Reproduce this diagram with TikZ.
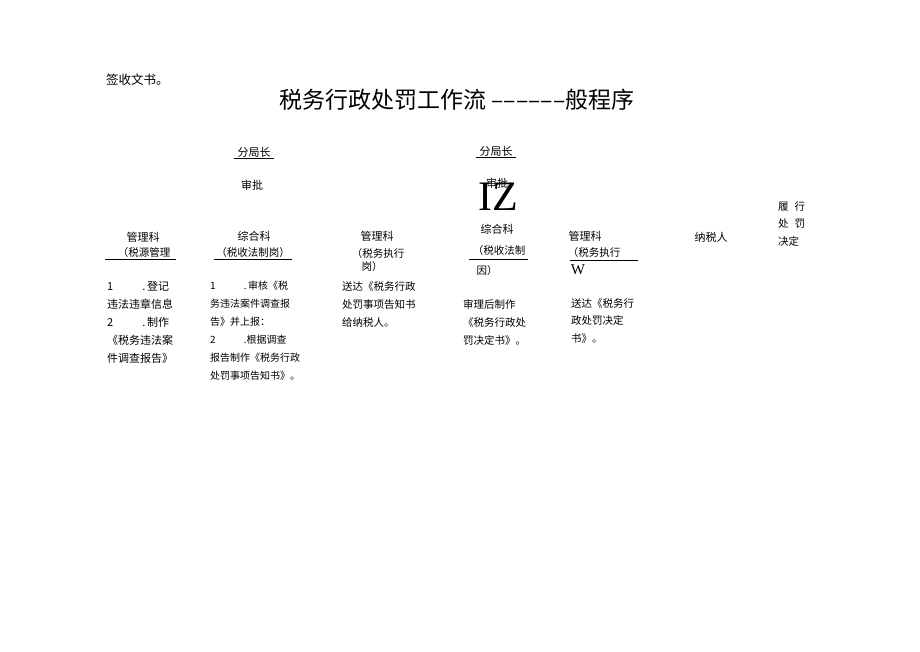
\documentclass[tikz,border=0pt]{standalone}
\usepackage{fontspec}
\setmainfont{Noto Sans CJK SC}
\newfontfamily\latinserif{Liberation Serif}
\usetikzlibrary{positioning}

\begin{document}
\begin{tikzpicture}[x=1pt,y=-1pt,
  head/.style={font=\fontsize{11}{13}\selectfont,inner sep=1.5pt},
  sub/.style={font=\fontsize{10.5}{13}\selectfont,inner sep=1.5pt},
  body/.style={font=\fontsize{10.5}{18}\selectfont,align=left,anchor=north west,inner sep=0pt},
  rule/.style={line width=0.6pt}]

  \fill[white] (0,0) rectangle (920,651);
  \useasboundingbox (0,0) rectangle (920,651);

  \node[anchor=west,inner sep=0pt,font=\fontsize{12.5}{14}\selectfont] (sign) at (106,80) {签收文书。};
  \node[font=\fontsize{23}{26}\selectfont] (title) at (457,100) {税务行政处罚工作流 ––––––般程序};

  % chiefs
  \node[head] (chief1) at (254,152) {分局长};
  \draw[rule] ([xshift=-2pt]chief1.south west) -- ([xshift=2pt]chief1.south east);
  \node[head] (chief2) at (496,151) {分局长};
  \draw[rule] ([xshift=-2pt]chief2.south west) -- ([xshift=2pt]chief2.south east);
  \node[head] (approve1) at (252,185) {审批};
  \node[head] (approve2) at (497,183) {审批};
  \node[font=\latinserif\fontsize{42}{44}\selectfont] (iz) at (498,197) {IZ};

  % departments
  \node[head] (dept1) at (143,237) {管理科};
  \node[head] (dept2) at (254,236) {综合科};
  \node[head] (dept3) at (377,236) {管理科};
  \node[head] (dept4) at (497,229) {综合科};
  \node[head] (dept5) at (585,236) {管理科};
  \node[head] (payer) at (711,237) {纳税人};
  \node[font=\fontsize{10.5}{17.5}\selectfont,align=left,anchor=north west,inner sep=0pt] (perform) at (778,201) {履\hspace{6pt}行\\处\hspace{6pt}罚\\决定};

  \node[sub] (post1) at (144,253) {（税源管理};
  \draw[rule] ([xshift=-11pt]post1.south west) -- ([xshift=4pt]post1.south east);
  \node[sub] (post2) at (253,253) {（税收法制岗）};
  \draw[rule] ([xshift=-1pt]post2.south west) -- ([xshift=1pt]post2.south east);
  \node[sub] (post3) at (378,254) {（税务执行};
  \node[sub] (post3b) at (372,267) {岗）};
  \node[sub] (post4) at (499,251) {（税收法制};
  \draw[rule] ([xshift=-2pt,yshift=-2pt]post4.south west) -- ([xshift=1pt,yshift=-2pt]post4.south east);
  \node[sub] (post4b) at (487,271) {因）};
  \node[sub] (post5) at (594,253) {（税务执行};
  \draw[rule] ([xshift=4pt,yshift=-1pt]post5.south west) -- ([xshift=16pt,yshift=-1pt]post5.south east);
  \node[font=\latinserif\fontsize{15}{17}\selectfont,inner sep=0pt] (w) at (578,270) {W};

  % steps
  \node[body,font=\fontsize{11}{18}\selectfont] (step1) at (107,281)
    {1\hspace{29pt}.\,登记\\违法违章信息\\2\hspace{29pt}.\,制作\\《税务违法案\\件调查报告》};
  \node[body,font=\fontsize{10}{18}\selectfont] (step2) at (210,281)
    {1\hspace{28pt}.\,审核《税\\务违法案件调查报\\告》并上报：\\2\hspace{28pt}.根据调查\\报告制作《税务行政\\处罚事项告知书》。};
  \node[body] (step3) at (342,281) {送达《税务行政\\处罚事项告知书\\给纳税人。};
  \node[body] (step4) at (463,299) {审理后制作\\《税务行政处\\罚决定书》。};
  \node[body,font=\fontsize{10.5}{17.5}\selectfont] (step5) at (571,298) {送达《税务行\\政处罚决定\\书》。};
\end{tikzpicture}
\end{document}
